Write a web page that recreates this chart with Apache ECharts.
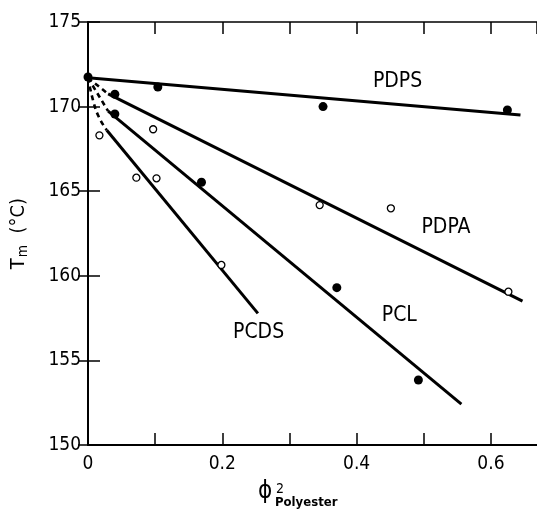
<!DOCTYPE html>
<html>
<head>
<meta charset="utf-8">
<script src="https://cdn.jsdelivr.net/npm/echarts@6/dist/echarts.min.js"></script>
<style>
html,body{margin:0;padding:0;background:#fff;}
#c{width:537px;height:514px;}
</style>
</head>
<body>
<div id="c"></div>
<script>
// ---- data ----
var xTickLabelValues = [0, 0.2, 0.4, 0.6];
var yMin = 150, yMax = 175, yStep = 5;

// filled circles
var pdpsPoints = [[0, 171.75], [0.104, 171.16], [0.35, 170.0], [0.6245, 169.8]];
var pclPoints = [[0.04, 170.73], [0.04, 169.56], [0.169, 165.53], [0.3705, 159.3], [0.492, 153.84]];
// open circles
var pcdsPoints = [[0.017, 168.3], [0.072, 165.8], [0.102, 165.76], [0.097, 168.66], [0.1986, 160.64]];
var pdpaPoints = [[0.345, 164.18], [0.451, 163.99], [0.626, 159.06]];

// fitted lines (solid) and dashed extrapolations to the origin
var pdpsFit = [[0, 171.7], [0.644, 169.5]];
var pdpaFit = [[0.03, 170.75], [0.647, 158.5]];
var pdpaDash = [[0, 171.7], [0.03, 170.75]];
var pclFit = [[0.03, 169.73], [0.556, 152.42]];
var pclDash = [[0, 171.7], [0.03, 169.73]];
var pcdsFit = [[0.028, 168.6], [0.253, 157.78]];
var pcdsDash = [[0, 171.7], [0.008, 170.3], [0.016, 169.4], [0.028, 168.6]];

// curve labels
var curveLabels = [
  ['PDPS', 0.461, 171.47],
  ['PDPA', 0.533, 162.84],
  ['PCL', 0.4636, 157.68],
  ['PCDS', 0.254, 156.62]
];

var FONT = '"DejaVu Sans Condensed", "DejaVu Sans", sans-serif';
var INK = '#000';

function solid(data) {
  return { type: 'line', data: data, symbol: 'none', silent: true, z: 2,
    lineStyle: { color: INK, width: 3, type: 'solid', cap: 'butt', opacity: 1 } };
}
function dashed(data, smooth) {
  return { type: 'line', data: data, symbol: 'none', silent: true, z: 2, smooth: !!smooth,
    lineStyle: { color: INK, width: 2.6, type: [5, 4], opacity: 1 } };
}

var chart = echarts.init(document.getElementById('c'), null, { renderer: 'canvas' });

var xCommon = { type: 'value', min: 0, max: 0.6686, interval: 0.1, splitLine: { show: false } };
var yCommon = { type: 'value', min: yMin, max: yMax, interval: yStep, splitLine: { show: false } };

chart.setOption({
  backgroundColor: '#fff',
  animation: false,
  grid: { left: 88, top: 22, right: -1, bottom: 69, containLabel: false },
  xAxis: [
    Object.assign({}, xCommon, {
      position: 'bottom',
      axisLine: { show: true, lineStyle: { color: INK, width: 2 } },
      axisTick: { show: true, inside: true, length: 12, lineStyle: { color: INK, width: 1.5 } },
      axisLabel: {
        margin: 10, color: INK, fontFamily: FONT, fontSize: 19, showMaxLabel: false,
        formatter: function (v) {
          for (var i = 0; i < xTickLabelValues.length; i++) {
            if (Math.abs(v - xTickLabelValues[i]) < 1e-6) return String(xTickLabelValues[i]);
          }
          return '';
        }
      }
    }),
    Object.assign({}, xCommon, {
      position: 'top',
      axisLine: { show: true, onZero: false, lineStyle: { color: INK, width: 1.5 } },
      axisTick: { show: true, inside: true, length: 12, lineStyle: { color: INK, width: 1.5 } },
      axisLabel: { show: false }
    })
  ],
  yAxis: [
    Object.assign({}, yCommon, {
      position: 'left',
      axisLine: { show: true, onZero: false, lineStyle: { color: INK, width: 2 } },
      axisTick: { show: true, inside: true, length: 12, lineStyle: { color: INK, width: 1.5 } },
      axisLabel: { margin: 7, color: INK, fontFamily: FONT, fontSize: 19 },
      name: '{t|T}{s|m}{t|  (°C)}',
      nameLocation: 'middle',
      nameRotate: 90,
      nameGap: 58,
      nameTextStyle: {
        rich: {
          t: { fontFamily: FONT, fontSize: 20, color: INK },
          s: { fontFamily: FONT, fontSize: 14, color: INK, padding: [8, 0, 0, 1] }
        }
      }
    }),
    Object.assign({}, yCommon, {
      position: 'right',
      axisLine: { show: false },
      axisTick: { show: true, inside: true, length: 10, lineStyle: { color: INK, width: 1.5 } },
      axisLabel: { show: false }
    })
  ],
  graphic: [
    { type: 'text', left: 258, top: 480, style: { text: 'ϕ', font: '24px ' + FONT, fill: INK } },
    { type: 'text', left: 276, top: 482, style: { text: '2', font: '14px ' + FONT, fill: INK } },
    { type: 'text', left: 275, top: 496, style: { text: 'Polyester', font: 'bold 13px ' + FONT, fill: INK } }
  ],
  series: [
    solid(pdpsFit),
    solid(pdpaFit), dashed(pdpaDash),
    solid(pclFit), dashed(pclDash),
    solid(pcdsFit), dashed(pcdsDash, true),
    { type: 'scatter', data: pdpsPoints, symbol: 'circle', symbolSize: 9, z: 5,
      itemStyle: { color: INK, opacity: 1 } },
    { type: 'scatter', data: pclPoints, symbol: 'circle', symbolSize: 9, z: 5,
      itemStyle: { color: INK, opacity: 1 } },
    { type: 'scatter', data: pcdsPoints, symbol: 'circle', symbolSize: 7, z: 5,
      itemStyle: { color: '#fff', borderColor: INK, borderWidth: 1.3, opacity: 1 } },
    { type: 'scatter', data: pdpaPoints, symbol: 'circle', symbolSize: 7, z: 5,
      itemStyle: { color: '#fff', borderColor: INK, borderWidth: 1.3, opacity: 1 } },
    { type: 'scatter', silent: true, z: 6, symbolSize: 0,
      itemStyle: { opacity: 1 },
      data: curveLabels.map(function (d) { return { name: d[0], value: [d[1], d[2]] }; }),
      label: { show: true, position: 'inside', formatter: '{b}', color: INK, opacity: 1,
        fontFamily: FONT, fontSize: 21 } }
  ]
});
</script>
</body>
</html>
